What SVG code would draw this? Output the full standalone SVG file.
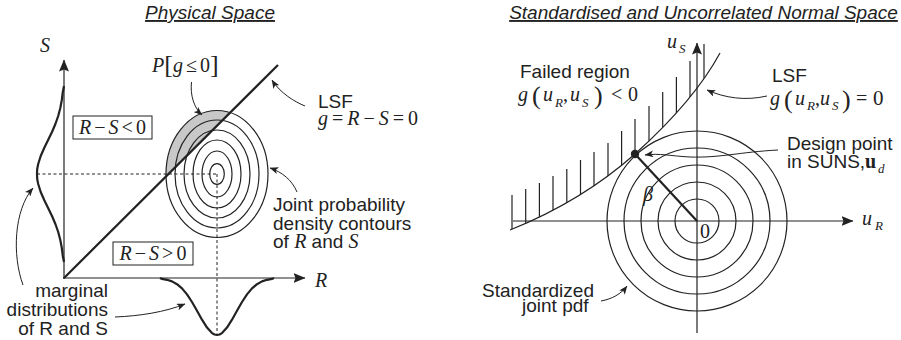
<svg xmlns="http://www.w3.org/2000/svg" width="901" height="340" viewBox="0 0 901 340">
<defs>
<style>
.ln{stroke:#222;fill:none;stroke-width:1.2}
.thin{stroke:#222;fill:none;stroke-width:1}
.thick{stroke:#222;fill:none;stroke-width:2.2;stroke-linejoin:round}
.dash{stroke:#222;fill:none;stroke-width:1;stroke-dasharray:3 2.5}
.sans{font-family:"Liberation Sans",Arial,sans-serif;font-size:19px;fill:#222}
.m{font-family:"Liberation Serif","Times New Roman",serif;font-size:20px;fill:#222}
.it{font-style:italic}
.sub{font-size:13px}
.br{font-size:26px}
.title{font-style:italic;text-decoration:underline}
</style>
<marker id="ah" viewBox="0 0 10 8" refX="9.5" refY="4" markerWidth="9" markerHeight="7" markerUnits="userSpaceOnUse" orient="auto"><path d="M0,0 L10,4 L0,8 L2.5,4 z" fill="#222"/></marker>
<marker id="ax" viewBox="0 0 12 10" refX="11.5" refY="5" markerWidth="12" markerHeight="10" markerUnits="userSpaceOnUse" orient="auto"><path d="M0,0 L12,5 L0,10 L2,5 z" fill="#222"/></marker>
<clipPath id="capClip"><polygon points="20,321.8 320,23.2 20,23.2"/></clipPath>
<clipPath id="hatchClip"><path d="M510,230 C560,210 600,185 635,154 C665,127 700,90 720,53 L720,0 L500,0 L500,232 Z"/></clipPath>
</defs>

<!-- LEFT PANEL -->
<g id="title-left"><text class="sans title" x="210" y="19" text-anchor="middle">Physical Space</text></g>

<g id="failure-probability-region">
<ellipse cx="217" cy="174" rx="51" ry="63.5" fill="#c8c8c8" clip-path="url(#capClip)"/>
</g>

<g id="joint-pdf-contours" class="ln">
<ellipse cx="217" cy="174" rx="51" ry="63.5"/>
<ellipse cx="217" cy="174" rx="42" ry="54"/>
<ellipse cx="217" cy="174" rx="33" ry="44"/>
<ellipse cx="217" cy="174" rx="24" ry="34"/>
<ellipse cx="217" cy="174" rx="15" ry="23"/>
<ellipse cx="217" cy="174" rx="7.3" ry="10.3"/>
</g>

<g id="mean-lines">
<line class="dash" x1="37" y1="174" x2="217" y2="174"/>
<line class="dash" x1="217" y1="174" x2="217" y2="335"/>
</g>

<g id="axes-left">
<line class="ln" x1="64" y1="279" x2="64" y2="60" marker-end="url(#ax)"/>
<line class="ln" x1="63" y1="278" x2="305" y2="278" marker-end="url(#ax)"/>
<text class="m it" x="40" y="52" font-size="22">S</text>
<text class="m it" x="315" y="287" font-size="22">R</text>
</g>

<g id="lsf-left">
<line class="thick" x1="64" y1="278" x2="278" y2="65"/>
</g>

<g id="marginal-S">
<polyline class="thick" points="64,86 62.8,92 61.8,100 60.3,108 58.2,116 55.4,124 52,132 48.1,140 44.2,148 40.7,156 38.2,164 37.2,169 37,174 37.2,179 38.2,184 40.7,192 44.2,200 48.1,208 52,216 55.4,224 58.2,232 60.3,240 61.8,248 62.8,256 64,262"/>
</g>
<g id="marginal-R">
<polyline class="thick" points="160,278 162,278.9 167,279.8 172,281.4 177,284.2 182,288.4 187,294.4 192,302 197,310.8 202,319.7 207,327.6 212,333.1 214.5,334.5 217,335 219.5,334.5 222,333.1 227,327.6 232,319.7 237,310.8 242,302 247,294.4 252,288.4 257,284.2 262,281.4 267,279.8 272,278.9 274,278"/>
</g>

<g id="box-unsafe">
<rect class="thin" x="73" y="116" width="79" height="23" fill="#fff"/>
<text class="m" x="112.5" y="134" text-anchor="middle"><tspan class="it">R</tspan><tspan dx="3">−</tspan><tspan dx="3" class="it">S</tspan><tspan dx="3">&lt;</tspan><tspan dx="3">0</tspan></text>
</g>
<g id="box-safe">
<rect class="thin" x="113" y="242" width="80" height="23" fill="#fff"/>
<text class="m" x="153" y="260" text-anchor="middle"><tspan class="it">R</tspan><tspan dx="3">−</tspan><tspan dx="3" class="it">S</tspan><tspan dx="3">&gt;</tspan><tspan dx="3">0</tspan></text>
</g>

<g id="label-pf">
<text class="m" x="152" y="72"><tspan class="it">P</tspan><tspan class="br" dy="1">[</tspan><tspan class="it" dy="-1">g</tspan><tspan dx="3">≤</tspan><tspan dx="3">0</tspan><tspan class="br" dy="1">]</tspan></text>
</g>

<g id="label-lsf-left">
<text class="sans" x="318" y="108">LSF</text>
<text class="m" x="318" y="125"><tspan class="it">g</tspan><tspan dx="4">=</tspan><tspan dx="4" class="it">R</tspan><tspan dx="4">−</tspan><tspan dx="4" class="it">S</tspan><tspan dx="4">=</tspan><tspan dx="4">0</tspan></text>
</g>

<g id="label-joint">
<text class="sans" x="273" y="211">Joint probability</text>
<text class="sans" x="273" y="229.5">density contours</text>
<text class="sans" x="273" y="248">of <tspan class="m it">R</tspan> and <tspan class="m it">S</tspan></text>
</g>

<g id="label-marginal">
<text class="sans" x="108" y="297" text-anchor="end">marginal</text>
<text class="sans" x="108" y="316" text-anchor="end">distributions</text>
<text class="sans" x="108" y="335" text-anchor="end">of R and S</text>
</g>

<!-- RIGHT PANEL -->
<g id="title-right"><text class="sans title" x="703.5" y="19" text-anchor="middle">Standardised and Uncorrelated Normal Space</text></g>

<g id="std-joint-pdf" class="ln">
<circle cx="697" cy="221" r="22"/>
<circle cx="697" cy="221" r="39"/>
<circle cx="697" cy="221" r="56"/>
<circle cx="697" cy="221" r="73"/>
<circle cx="697" cy="221" r="90"/>
</g>

<g id="failed-hatch" class="ln" clip-path="url(#hatchClip)">
<line x1="512" y1="195" x2="512" y2="240"/>
<line x1="525.7" y1="189" x2="525.7" y2="240"/>
<line x1="539.4" y1="183" x2="539.4" y2="240"/>
<line x1="553" y1="176" x2="553" y2="240"/>
<line x1="566.8" y1="169" x2="566.8" y2="240"/>
<line x1="580.5" y1="160" x2="580.5" y2="240"/>
<line x1="594" y1="152" x2="594" y2="240"/>
<line x1="608" y1="143" x2="608" y2="240"/>
<line x1="621.6" y1="131" x2="621.6" y2="240"/>
<line x1="635" y1="119" x2="635" y2="240"/>
<line x1="649" y1="106" x2="649" y2="240"/>
<line x1="662.7" y1="92" x2="662.7" y2="240"/>
<line x1="676.4" y1="77" x2="676.4" y2="240"/>
<line x1="690" y1="61" x2="690" y2="240"/>
<line x1="704" y1="44" x2="704" y2="240"/>
</g>

<g id="axes-right">
<line class="ln" x1="513" y1="221" x2="853" y2="221" marker-end="url(#ax)"/>
<line class="ln" x1="697" y1="333" x2="697" y2="43" marker-end="url(#ax)"/>
<text class="m it" x="667" y="48">u</text><text class="m it sub" x="679" y="53">S</text>
<text class="m it" x="862" y="225">u</text><text class="m it sub" x="875" y="230">R</text>
<text class="m" x="700" y="238" font-size="21">0</text>
</g>

<g id="lsf-right">
<path class="ln" stroke-width="1.6" d="M510,230 C560,210 600,185 635,154 C665,127 700,90 720,53"/>
</g>

<g id="beta">
<line class="thick" stroke-width="2.6" x1="635" y1="154" x2="697" y2="221"/>
<text class="m it" x="643" y="201">β</text>
</g>

<g id="design-point">
<circle cx="635" cy="154" r="4.2" fill="#222"/>
</g>

<g id="label-failed">
<text class="sans" x="520" y="78">Failed region</text>
<g class="m">
<text class="it" x="518" y="101">g</text>
<text class="br" x="532" y="104">(</text>
<text class="it" x="543" y="101">u</text>
<text class="it sub" x="555" y="107">R</text>
<text x="563" y="101">,</text>
<text class="it" x="570" y="101">u</text>
<text class="it sub" x="582" y="107">S</text>
<text class="br" x="594" y="104">)</text>
<text x="611" y="101">&lt;</text>
<text x="628" y="101">0</text>
</g>
</g>

<g id="label-lsf-right">
<text class="sans" x="772" y="82">LSF</text>
<g class="m">
<text class="it" x="770" y="105">g</text>
<text class="br" x="784" y="108">(</text>
<text class="it" x="795" y="105">u</text>
<text class="it sub" x="807" y="110">R</text>
<text x="815" y="105">,</text>
<text class="it" x="820" y="105">u</text>
<text class="it sub" x="832" y="110">S</text>
<text class="br" x="842" y="108">)</text>
<text x="856" y="105">=</text>
<text x="873" y="105" font-size="21">0</text>
</g>
</g>

<g id="label-design">
<text class="sans" x="787" y="150">Design point</text>
<text class="sans" x="787" y="168">in SUNS,</text>
<text class="m" x="865" y="168" font-weight="bold">u</text>
<text class="m it sub" x="878" y="173">d</text>
</g>

<g id="label-stdpdf">
<text class="sans" x="482" y="297">Standardized</text>
<text class="sans" x="522" y="312">joint pdf</text>
</g>

<!-- CONNECTORS -->
<g id="connectors" class="thin">
<path d="M191.5,82 C190,95 194,108 202,115" marker-end="url(#ah)"/>
<path d="M305,106 C295,102 280,93 272,80" marker-end="url(#ah)"/>
<path d="M297,192 C292,180 282,172 270,168" marker-end="url(#ah)"/>
<path d="M23,285 C12,255 14,210 33,188" marker-end="url(#ah)"/>
<path d="M115,317 C140,316 165,312 185,304" marker-end="url(#ah)"/>
<path d="M767,96 C745,101 725,98 707,90" marker-end="url(#ah)"/>
<path d="M778,150 C740,152 720,158 690,157 C670,156 660,153 645,155" marker-end="url(#ah)"/>
<path d="M601,301 C612,299 621,294 627,286" marker-end="url(#ah)"/>
</g>
</svg>
